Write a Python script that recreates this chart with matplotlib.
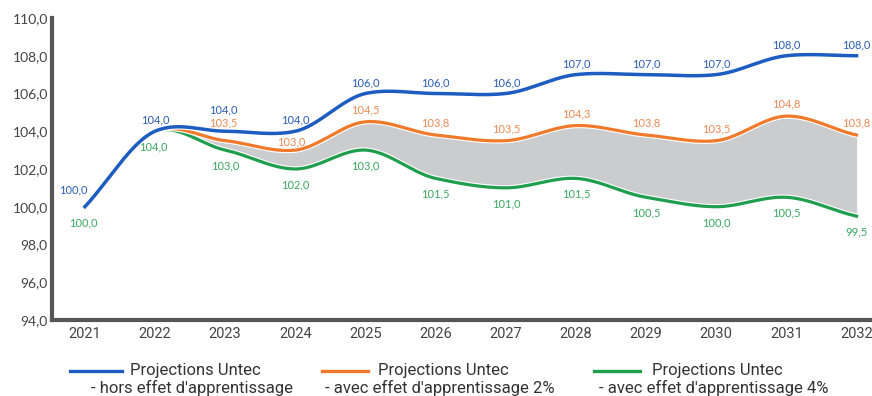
import numpy as np
import matplotlib
matplotlib.use("Agg")
import matplotlib.pyplot as plt
import matplotlib.patheffects as pe
from matplotlib.lines import Line2D
from matplotlib import font_manager as fm

# ---- data -------------------------------------------------------------
years = [2021, 2022, 2023, 2024, 2025, 2026, 2027, 2028, 2029, 2030, 2031, 2032]
hors_effet = [100.0, 104.0, 104.0, 104.0, 106.0, 106.0, 106.0, 107.0, 107.0, 107.0, 108.0, 108.0]
effet_2pct = [100.0, 104.0, 103.5, 103.0, 104.5, 103.8, 103.5, 104.3, 103.8, 103.5, 104.8, 103.8]
effet_4pct = [100.0, 104.0, 103.0, 102.0, 103.0, 101.5, 101.0, 101.5, 100.5, 100.0, 100.5, 99.5]
y_ticks = [94, 96, 98, 100, 102, 104, 106, 108, 110]
legend_title = "Projections Untec"
legend_sub = ["- hors effet d'apprentissage",
              "- avec effet d'apprentissage 2%",
              "- avec effet d'apprentissage 4%"]

# ---- fonts ------------------------------------------------------------
installed = {f.name for f in fm.fontManager.ttflist}
def pick(*names):
    for n in names:
        if n in installed:
            return n
    return "DejaVu Sans"
ui_font = pick("Roboto", "Open Sans", "Noto Sans")
main_font = pick("Lato", "Open Sans", "Noto Sans")

# ---- helpers ----------------------------------------------------------
def cardinal(x, y, xs, scale=0.8):
    """Cardinal (Catmull-Rom style) spline through the points."""
    x = np.asarray(x, float); y = np.asarray(y, float)
    n = len(x); m = np.zeros(n)
    m[1:-1] = scale * (y[2:] - y[:-2]) / (x[2:] - x[:-2])
    m[0] = (y[1] - y[0]) / (x[1] - x[0])
    m[-1] = scale * (y[-1] - y[-2]) / (x[-1] - x[-2])
    h = np.diff(x)
    idx = np.clip(np.searchsorted(x, xs) - 1, 0, n - 2)
    t = (xs - x[idx]) / h[idx]
    h00 = 2 * t**3 - 3 * t**2 + 1; h10 = t**3 - 2 * t**2 + t
    h01 = -2 * t**3 + 3 * t**2; h11 = t**3 - t**2
    return h00 * y[idx] + h10 * h[idx] * m[idx] + h01 * y[idx + 1] + h11 * h[idx] * m[idx + 1]

def fmt(v):
    return f"{v:.1f}".replace(".", ",")

# ---- figure -----------------------------------------------------------
fig = plt.figure(figsize=(8.72, 3.96), dpi=100)
ax = fig.add_axes([0.0596, 0.192, 0.938, 0.7626])

xs = np.linspace(years[0], years[-1], 800)
blue_s = cardinal(years, hors_effet, xs)
orange_s = cardinal(years, effet_2pct, xs)
green_s = cardinal(years, effet_4pct, xs)

c_blue, c_orange, c_green = "#1d5cc0", "#f07a2c", "#1f9e4e"
t_blue, t_orange, t_green = "#2a5cb3", "#ea8a55", "#39a65e"

ax.fill_between(xs, orange_s, green_s, where=xs >= years[1],
                color="#cbcccd", lw=0, zorder=1)
edge = lambda lw: [pe.Stroke(linewidth=lw + 1.6, foreground="white"), pe.Normal()]
ax.plot(xs, green_s, color=c_green, lw=2.3, zorder=3, path_effects=edge(2.3))
ax.plot(xs, orange_s, color=c_orange, lw=2.3, zorder=4, path_effects=edge(2.3))
ax.plot(xs, blue_s, color=c_blue, lw=2.5, zorder=5, path_effects=edge(2.5))

# value labels (offsets in pixels)
lab_kw = dict(textcoords="offset pixels", ha="center", va="center",
              fontsize=8, family=main_font, zorder=6)
blue_off = {0: (-12, 17), 2: (-2, 21)}
orange_off = {2: (-2, 18), 3: (-4, 8)}
green_off = {0: (-2, -16), 1: (-2, -16)}
for i, (yr, v) in enumerate(zip(years, hors_effet)):
    ax.annotate(fmt(v), (yr, v), xytext=blue_off.get(i, (0, 11)), color=t_blue, **lab_kw)
for i, (yr, v) in enumerate(zip(years, effet_2pct)):
    if i < 2:
        continue
    ax.annotate(fmt(v), (yr, v), xytext=orange_off.get(i, (0, 12)), color=t_orange, **lab_kw)
for i, (yr, v) in enumerate(zip(years, effet_4pct)):
    ax.annotate(fmt(v), (yr, v), xytext=green_off.get(i, (0, -16)), color=t_green, **lab_kw)

# axes styling
ax.set_xlim(2020.53, 2032.19)
ax.set_ylim(94, 110)
ax.set_yticks(y_ticks)
ax.set_yticklabels([fmt(v) for v in y_ticks], family=main_font, fontsize=10, color="#444444")
ax.set_xticks(years)
ax.set_xticklabels([str(y) for y in years], family=ui_font, fontsize=10.5, color="#444444")
ax.tick_params(axis="both", length=0)
ax.tick_params(axis="y", pad=3)
ax.tick_params(axis="x", pad=5)
for s in ("top", "right"):
    ax.spines[s].set_visible(False)
for s in ("left", "bottom"):
    ax.spines[s].set_color("#555555")
    ax.spines[s].set_linewidth(3)

# legend drawn in figure pixels
W, H = 872, 396
entries = [(c_blue, 70, 122, 192), (c_orange, 322, 368, 440), (c_green, 594, 640, 714)]
for (col, x0, x1, xc), sub in zip(entries, legend_sub):
    fig.add_artist(Line2D([x0 / W, x1 / W], [1 - 371 / H] * 2, color=col, lw=2.4,
                          transform=fig.transFigure))
    fig.text(xc / W + 0.004, 1 - 371 / H, legend_title, ha="center", va="center",
             family=ui_font, fontsize=12, color="#333333")
    fig.text(xc / W, 1 - 388 / H, sub, ha="center", va="center",
             family=ui_font, fontsize=12, color="#333333")

fig.savefig("out.png", dpi=100)
